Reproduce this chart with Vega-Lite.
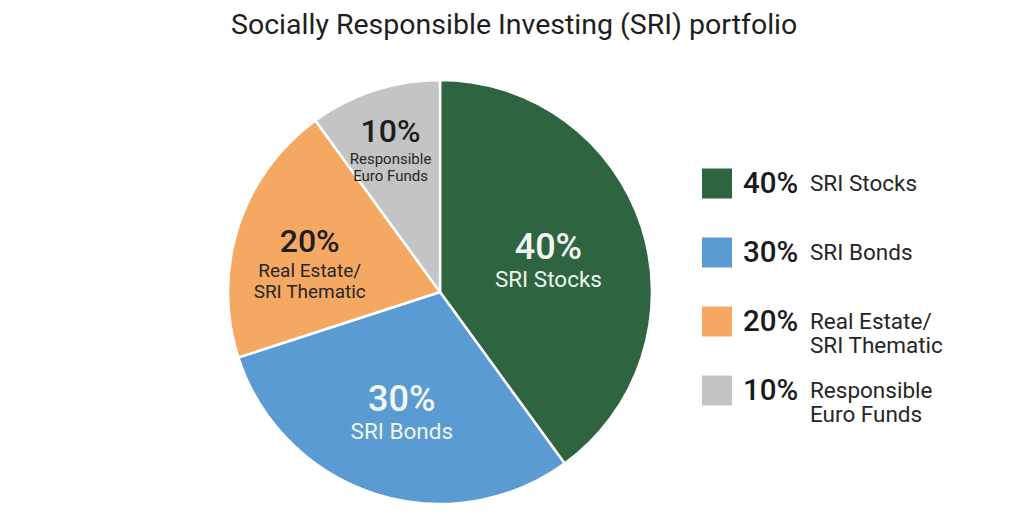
{
  "$schema": "https://vega.github.io/schema/vega-lite/v6.json",
  "background": "white",
  "padding": {"left": 223, "top": 10, "right": 0, "bottom": 0},
  "title": {
    "text": "Socially Responsible Investing (SRI) portfolio",
    "anchor": "start",
    "dx": 8,
    "offset": 36,
    "font": "Roboto",
    "fontSize": 28.5,
    "fontWeight": "normal",
    "color": "#1e1e1e"
  },
  "config": {"view": {"stroke": null}, "font": "Roboto"},
  "data": {
    "values": [
      {"segment": "SRI Stocks", "pct": 0.4},
      {"segment": "SRI Bonds", "pct": 0.3},
      {"segment": "Real Estate/\nSRI Thematic", "pct": 0.2},
      {"segment": "Responsible\nEuro Funds", "pct": 0.1}
    ]
  },
  "spacing": 45,
  "hconcat": [
    {
      "width": 424,
      "height": 424,
      "encoding": {
        "theta": {"field": "pct", "type": "quantitative", "stack": true},
        "order": {"field": "pct", "type": "quantitative", "sort": "descending"}
      },
      "layer": [
        {
          "mark": {"type": "arc", "stroke": "white", "strokeWidth": 2.5},
          "encoding": {
            "color": {
              "field": "segment",
              "type": "nominal",
              "scale": {
                "domain": ["SRI Stocks", "SRI Bonds", "Real Estate/\nSRI Thematic", "Responsible\nEuro Funds"],
                "range": ["#2f6441", "#5b9bd3", "#f4a862", "#c4c4c4"]
              },
              "legend": null
            }
          }
        },
        {
          "mark": {"type": "text", "align": "center", "baseline": "alphabetic", "dy": 2, "fontWeight": 500},
          "encoding": {
            "radius": {"field": "pct", "type": "quantitative", "scale": {"type": "log", "domain": [0.1, 0.4], "range": [160, 114]}},
            "text": {"field": "pct", "type": "quantitative", "format": ".0%"},
            "size": {"condition": {"test": "datum.pct >= 0.3", "value": 36}, "value": 32},
            "color": {"condition": {"test": "datum.pct >= 0.3", "value": "#f3f7f3"}, "value": "#1e1e1e"}
          }
        },
        {
          "mark": {"type": "text", "align": "center", "baseline": "top", "dy": 12, "lineBreak": "\n"},
          "encoding": {
            "radius": {"field": "pct", "type": "quantitative", "scale": {"type": "log", "domain": [0.1, 0.4], "range": [160, 114]}},
            "text": {"field": "segment", "type": "nominal"},
            "size": {"condition": [{"test": "datum.pct >= 0.3", "value": 22.5}, {"test": "datum.pct < 0.15", "value": 15}], "value": 19},
            "color": {"condition": {"test": "datum.pct >= 0.3", "value": "#eef4ee"}, "value": "#262626"}
          }
        }
      ]
    },
    {
      "width": 30,
      "height": 414,
      "encoding": {
        "y": {
          "field": "segment",
          "type": "nominal",
          "sort": {"field": "pct", "op": "max", "order": "descending"},
          "scale": {"type": "band", "paddingInner": 0, "paddingOuter": 1},
          "axis": null
        }
      },
      "layer": [
        {
          "mark": {"type": "point", "shape": "square", "filled": true, "size": 900, "opacity": 1, "strokeWidth": 0},
          "encoding": {
            "color": {
              "field": "segment",
              "type": "nominal",
              "scale": {
                "domain": ["SRI Stocks", "SRI Bonds", "Real Estate/\nSRI Thematic", "Responsible\nEuro Funds"],
                "range": ["#2f6441", "#5b9bd3", "#f4a862", "#c4c4c4"]
              },
              "legend": null
            }
          }
        },
        {
          "mark": {"type": "text", "align": "left", "baseline": "middle", "dx": 26, "fontSize": 29.5, "fontWeight": 500, "color": "#1a1a1a"},
          "encoding": {"text": {"field": "pct", "type": "quantitative", "format": ".0%"}}
        },
        {
          "mark": {"type": "text", "align": "left", "baseline": "middle", "dx": 93, "fontSize": 22.5, "color": "#262626", "lineBreak": "\n"},
          "encoding": {"text": {"field": "segment", "type": "nominal"}}
        }
      ]
    }
  ]
}
